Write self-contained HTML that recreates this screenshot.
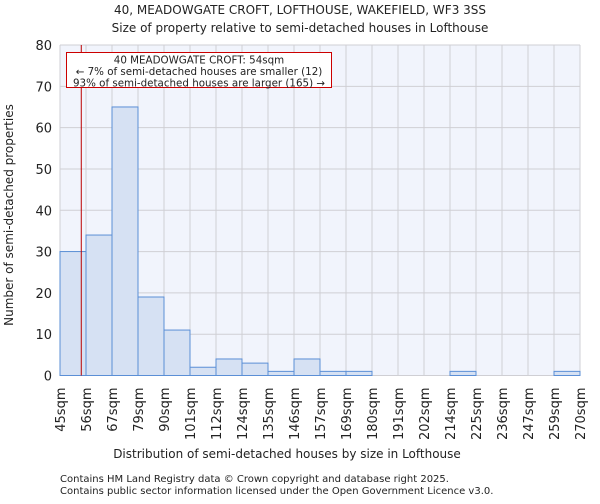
<!DOCTYPE html>
<html><head><meta charset="utf-8"><style>
body{margin:0;background:#fff;font-family:"DejaVu Sans","Liberation Sans",sans-serif}
svg text{font-family:"DejaVu Sans","Liberation Sans",sans-serif;fill:#222}
</style></head><body>
<svg id="c" width="600" height="500">
<text x="300" y="14" font-size="12" text-anchor="middle">40, MEADOWGATE CROFT, LOFTHOUSE, WAKEFIELD, WF3 3SS</text>
<text x="300" y="32" font-size="12" text-anchor="middle">Size of property relative to semi-detached houses in Lofthouse</text>
<g id="plot"></g>
<text x="287" y="458" font-size="12" text-anchor="middle">Distribution of semi-detached houses by size in Lofthouse</text>
<text transform="translate(13,215) rotate(-90)" font-size="12" text-anchor="middle">Number of semi-detached properties</text>
<text x="60" y="482" font-size="10" fill="#444">Contains HM Land Registry data © Crown copyright and database right 2025.</text>
<text x="60" y="494" font-size="10" fill="#444">Contains public sector information licensed under the Open Government Licence v3.0.</text>
</svg>
<script>
const binLabels=["45sqm","56sqm","67sqm","79sqm","90sqm","101sqm","112sqm","124sqm","135sqm","146sqm","157sqm","169sqm","180sqm","191sqm","202sqm","214sqm","225sqm","236sqm","247sqm","259sqm","270sqm"];
const counts=[30,34,65,19,11,2,4,3,1,4,1,1,0,0,0,1,0,0,0,1];
const yTicks=[0,10,20,30,40,50,60,70,80];
const propertySize=54;
const binStarts=[45,56,67,79,90,101,112,124,135,146,157,169,180,191,202,214,225,236,247,259,270];
const NS="http://www.w3.org/2000/svg";
const g=document.getElementById('plot');
const L=60,R=580,T=45,B=375.5,yMax=80;
const bw=(R-L)/counts.length;
const x=i=>L+i*bw;
const y=v=>B-(v/yMax)*(B-T);
function mk(t,a){const e=document.createElementNS(NS,t);for(const k in a)e.setAttribute(k,a[k]);g.appendChild(e);return e;}
let bg=mk('rect',{x:L,y:T,width:R-L,height:B-T,fill:'#f1f4fc'});


yTicks.forEach(v=>{
 let l=mk('line',{x1:L,x2:R,y1:y(v),y2:y(v),stroke:'#cfcfd4','stroke-width':1});
 
 
 let t=mk('text',{x:L-8,y:y(v)+5,'font-size':13,'text-anchor':'end'});t.textContent=v;
 
 
});
binLabels.forEach((s,i)=>{
 let l=mk('line',{x1:x(i),x2:x(i),y1:T,y2:B,stroke:'#cfcfd4','stroke-width':1});
 
 
 let t=mk('text',{transform:`translate(${x(i)+5},${B+12}) rotate(-90)`,'font-size':13,'text-anchor':'end'});t.textContent=s;
 
 
});
counts.forEach((c,i)=>{
 let r=mk('rect',{x:x(i),y:y(c),width:bw,height:B-y(c),fill:'#d6e1f3',stroke:'#5b8fd6','stroke-width':1});
 
 
});
let bi=0;for(let i=0;i<binStarts.length-1;i++)if(propertySize>=binStarts[i])bi=i;
const mx=x(bi)+(propertySize-binStarts[bi])/(binStarts[bi+1]-binStarts[bi])*bw;
let ml=mk('line',{x1:mx,x2:mx,y1:T,y2:B,stroke:'#b00','stroke-width':1});


let box=mk('rect',{x:66.5,y:52.5,width:265,height:35,fill:'#fff',stroke:'#c00','stroke-width':1});


["40 MEADOWGATE CROFT: 54sqm","← 7% of semi-detached houses are smaller (12)","93% of semi-detached houses are larger (165) →"].forEach((s,i)=>{
 let t=mk('text',{x:199,y:63.5+i*11.5,'font-size':10.3,'text-anchor':'middle'});t.textContent=s;
 
 
});
</script>
</body></html>
